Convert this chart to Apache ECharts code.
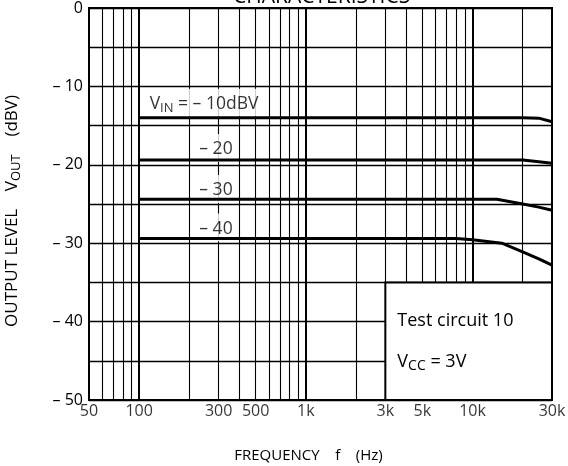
<!DOCTYPE html>
<html>
<head>
<meta charset="utf-8">
<script src="https://cdn.jsdelivr.net/npm/echarts@6/dist/echarts.min.js"></script>
<style>
  html, body { margin: 0; padding: 0; background: #fff; }
  #chart { width: 568px; height: 466px; }
</style>
</head>
<body>
<div id="chart"></div>
<script>
  // axis ranges
  const fMin = 50
  const fMax = 30000
  const yMin = -50
  const yMax = 0

  // frequency grid (log paper)
  const gridFreqs = [60, 70, 80, 90, 100, 200, 300, 400, 500, 600, 700, 800, 900,
    1000, 2000, 3000, 4000, 5000, 6000, 7000, 8000, 9000, 10000, 20000]
  const majorFreqs = [100, 1000, 10000]

  // x tick labels
  const tickFreqs = [50, 100, 300, 500, 1000, 3000, 5000, 10000, 30000]
  const tickText = ['50', '100', '300', '500', '1k', '3k', '5k', '10k', '30k']

  // output level curves, one per input level
  const freq10 = [100, 20000, 25000, 30000]
  const out10 = [-14.0, -14.0, -14.05, -14.5]
  const freq20 = [100, 20000, 25000, 30000]
  const out20 = [-19.4, -19.4, -19.6, -19.8]
  const freq30 = [100, 14000, 20000, 25000, 30000]
  const out30 = [-24.4, -24.4, -25.0, -25.4, -25.8]
  const freq40 = [100, 8000, 10000, 15000, 20000, 25000, 30000]
  const out40 = [-29.4, -29.4, -29.55, -30.0, -31.1, -32.0, -32.8]

  // curve labels
  const labelFreq = [245, 289, 289, 289]
  const labelOut = [-12.1, -17.85, -23.1, -28.0]
  const labelText = ['V{s|IN} = \u2013 10dBV', '\u2013 20', '\u2013 30', '\u2013 40']

  // test condition box
  const boxFreq = [3000, 30000]
  const boxOut = [-50, -35]

  const FONT = 'Open Sans'
  const chart = echarts.init(document.getElementById('chart'))

  function pairs(xs, ys) {
    return xs.map((x, i) => [x, ys[i]])
  }

  function curve(name, xs, ys) {
    return {
      name: name,
      type: 'line',
      data: pairs(xs, ys),
      showSymbol: false,
      symbol: 'none',
      z: 5,
      lineStyle: { color: '#000', width: 3 },
      silent: true
    }
  }

  chart.setOption({
    animation: false,
    backgroundColor: '#fff',
    textStyle: { fontFamily: FONT, color: '#000' },
    title: {
      text: 'CHARACTERISTICS',
      left: 228,
      top: -18,
      textStyle: { fontFamily: FONT, fontSize: 21, fontWeight: 'normal', color: '#000' }
    },
    grid: {
      left: 89,
      right: 16,
      top: 8,
      bottom: 66,
      outerBoundsMode: 'none',
      show: true,
      borderColor: '#000',
      borderWidth: 2,
      backgroundColor: '#fff'
    },
    xAxis: {
      type: 'log',
      min: fMin,
      max: fMax,
      name: 'FREQUENCY    f    (Hz)',
      nameLocation: 'middle',
      nameGap: 48,
      nameTextStyle: { fontFamily: FONT, fontSize: 15, color: '#000', padding: [0, 24, 0, 0] },
      axisLine: { show: false },
      axisTick: { show: false },
      axisLabel: { show: false },
      splitLine: { show: false }
    },
    yAxis: {
      type: 'value',
      min: yMin,
      max: yMax,
      interval: 5,
      name: 'OUTPUT LEVEL    V{s|OUT}    (dBV)',
      nameLocation: 'middle',
      nameGap: 66,
      nameTextStyle: {
        fontFamily: FONT, fontSize: 17, color: '#000', padding: [0, 14, 0, 0],
        rich: {
          s: { fontFamily: FONT, fontSize: 13, padding: [8, 0, 0, 0] }
        }
      },
      axisLine: { show: false },
      axisTick: { show: false },
      axisLabel: {
        fontFamily: FONT,
        fontSize: 16,
        color: '#000',
        margin: 6,
        formatter: v => (v % 10 !== 0 ? '' : (v === 0 ? '0' : '\u2013 ' + Math.abs(v)))
      },
      splitLine: { show: true, lineStyle: { color: '#000', width: 1.3 } }
    },
    series: [
      {
        name: 'freq grid',
        type: 'lines',
        coordinateSystem: 'cartesian2d',
        silent: true,
        z: 1,
        data: gridFreqs.map(f => ({
          coords: [[f, yMin], [f, yMax]],
          lineStyle: { width: majorFreqs.includes(f) ? 2 : 1.1 }
        })),
        lineStyle: { color: '#000', opacity: 1 }
      },
      {
        name: 'box',
        type: 'line',
        data: [],
        z: 3,
        silent: true,
        markArea: {
          silent: true,
          z: 3,
          itemStyle: { color: '#fff', borderColor: '#000', borderWidth: 2 },
          label: {
            show: true,
            position: 'insideLeft',
            distance: 13,
            fontFamily: FONT,
            fontSize: 18,
            color: '#000',
            lineHeight: 41,
            formatter: 'Test circuit 10\nV{s|CC}{t| = 3V}',
            rich: {
              s: { fontFamily: FONT, fontSize: 14, padding: [8, 0, 0, 0], color: '#000' },
              t: { fontFamily: FONT, fontSize: 18, color: '#000' }
            }
          },
          data: [[
            { coord: [boxFreq[0], boxOut[0]] },
            { coord: [boxFreq[1], boxOut[1]] }
          ]]
        }
      },
      {
        name: 'curve labels',
        type: 'scatter',
        symbolSize: 0,
        z: 4,
        silent: true,
        clip: false,
        data: labelText.map((t, i) => ({ value: [labelFreq[i], labelOut[i]], name: t })),
        label: {
          show: true,
          position: 'inside',
          formatter: p => p.name,
          fontFamily: FONT,
          fontSize: 17.5,
          lineHeight: 20,
          color: '#000',
          backgroundColor: '#fff',
          padding: [5, 5, 3, 5],
          rich: {
            s: { fontFamily: FONT, fontSize: 13, lineHeight: 20, padding: [9, 0, 0, 0], color: '#000' }
          }
        }
      },
      {
        name: 'x ticks',
        type: 'scatter',
        symbolSize: 0,
        silent: true,
        clip: false,
        data: tickFreqs.map((f, i) => ({ value: [f, yMin], name: tickText[i] })),
        label: {
          show: true,
          position: 'bottom',
          distance: 3,
          formatter: p => p.name,
          fontFamily: FONT,
          fontSize: 16,
          color: '#000'
        }
      },
      curve('-10dBV', freq10, out10),
      curve('-20dBV', freq20, out20),
      curve('-30dBV', freq30, out30),
      curve('-40dBV', freq40, out40)
    ]
  })
</script>
</body>
</html>
